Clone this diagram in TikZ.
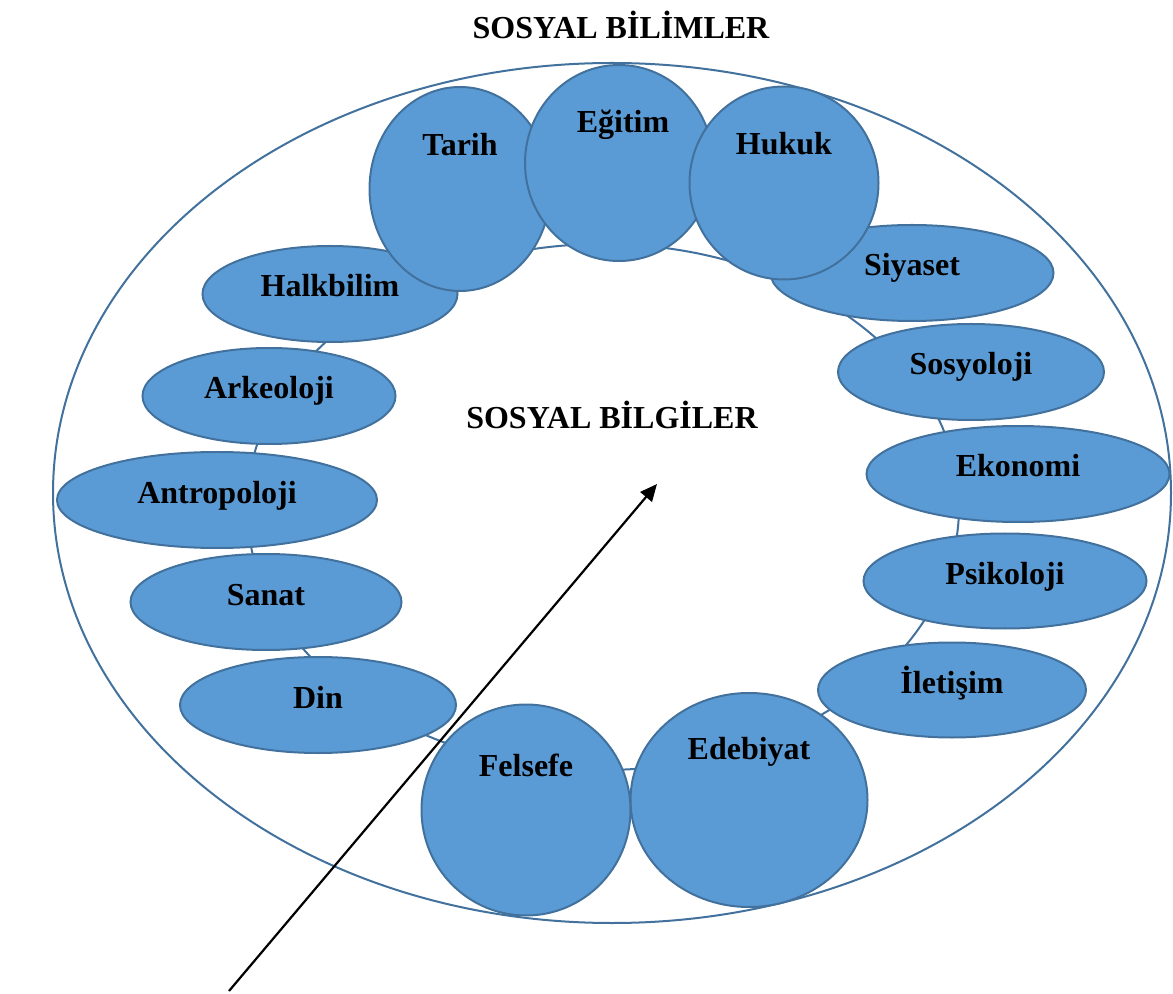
\documentclass[tikz,border=0pt]{standalone}
\usepackage{fontspec}
\setmainfont{Liberation Serif}
\usetikzlibrary{%
	positioning,
	arrows.meta,
	shapes.geometric
}
\definecolor{topicfill}{HTML}{5B9BD5}
\definecolor{topicline}{HTML}{41719C}

\begin{document}
\begin{tikzpicture}[
		x=0.5pt, y=-0.5pt,
		bigfont/.style={font=\fontsize{16}{19}\bfseries\selectfont},
		oval/.style={draw=topicline, line width=1pt, fill=topicfill, shape=ellipse, inner sep=0pt, minimum height=48pt, text height=0.7em, text depth=0.4em, bigfont},
		disc/.style={oval},
		title/.style={bigfont, inner sep=0pt},
		ring/.style={draw=topicline, line width=1pt},
		outside/.style={draw=topicline, line width=1pt},
		pointer/.style={-{Triangle[length=8.5pt,width=7.5pt]}, line width=1.1pt}
	]
	\useasboundingbox (0,0) rectangle (1173,994);

		\coordinate (core) at (612,493);
		\draw[outside] (core) ellipse [x radius=559, y radius=430];
		\coordinate (hub) at (603,507);
		\draw[ring] (hub) ellipse [x radius=356, y radius=263];

		% right side, top to bottom
		\node(siyaset) [oval, minimum width=141.5pt] at (912,273) {Siyaset};
		\node(sosyoloji) [oval, minimum width=133pt] at (971,372) {Sosyoloji};
		\node(ekonomi) [oval, minimum width=151.5pt] at (1018,474) {Ekonomi};
		\node(psikoloji) [oval, minimum width=141.5pt, minimum height=47.5pt] at (1005,581) {Psikoloji};
		\node(iletisim) [oval, minimum width=134pt, minimum height=47.5pt] at (952,690) {İletişim};

		% bottom
		\node(edebiyat) [disc, minimum width=118.5pt, minimum height=107pt] at (749,800) {};
		\node(felsefe) [disc, minimum width=104.5pt, minimum height=105.5pt] at (526,810) {};

		% left side, bottom to top
		\node(din) [oval, minimum width=138pt] at (318,705) {Din};
		\node(sanat) [oval, minimum width=135.5pt] at (266,602) {Sanat};
		\node(antropoloji) [oval, minimum width=160pt] at (217,500) {Antropoloji};
		\node(arkeoloji) [oval, minimum width=126.5pt] at (269,396) {Arkeoloji};
		\node(halkbilim) [oval, minimum width=127.5pt] at (330,294) {Halkbilim};

		% top
		\node(tarih) [disc, minimum width=90.5pt, minimum height=102pt] at (460,189) {};
		\node(egitim) [disc, minimum width=94pt, minimum height=98pt] at (619,163) {};
		\node(hukuk) [disc, minimum width=94.5pt, minimum height=96.5pt] at (784,183) {};

		\node(tarih-txt) [title] at ([yshift=22pt]tarih.center) {Tarih};
		\node(egitim-txt) [title] at ([yshift=19pt,xshift=2pt]egitim.center) {Eğitim};
		\node(hukuk-txt) [title] at ([yshift=19.5pt]hukuk.center) {Hukuk};
		\node(felsefe-txt) [title] at ([yshift=22.5pt]felsefe.center) {Felsefe};
		\node(edebiyat-txt) [title] at ([yshift=24pt]edebiyat.center) {Edebiyat};

		\node(bilimler) [title] at (621,25) {SOSYAL BİLİMLER};
		\node(bilgiler) [title] at (612,415) {SOSYAL BİLGİLER};

		\coordinate (tail) at (229,991);
		\coordinate (head) at (657,484);
		\draw[pointer] (tail) -- (head);

	\end{tikzpicture}
\end{document}
